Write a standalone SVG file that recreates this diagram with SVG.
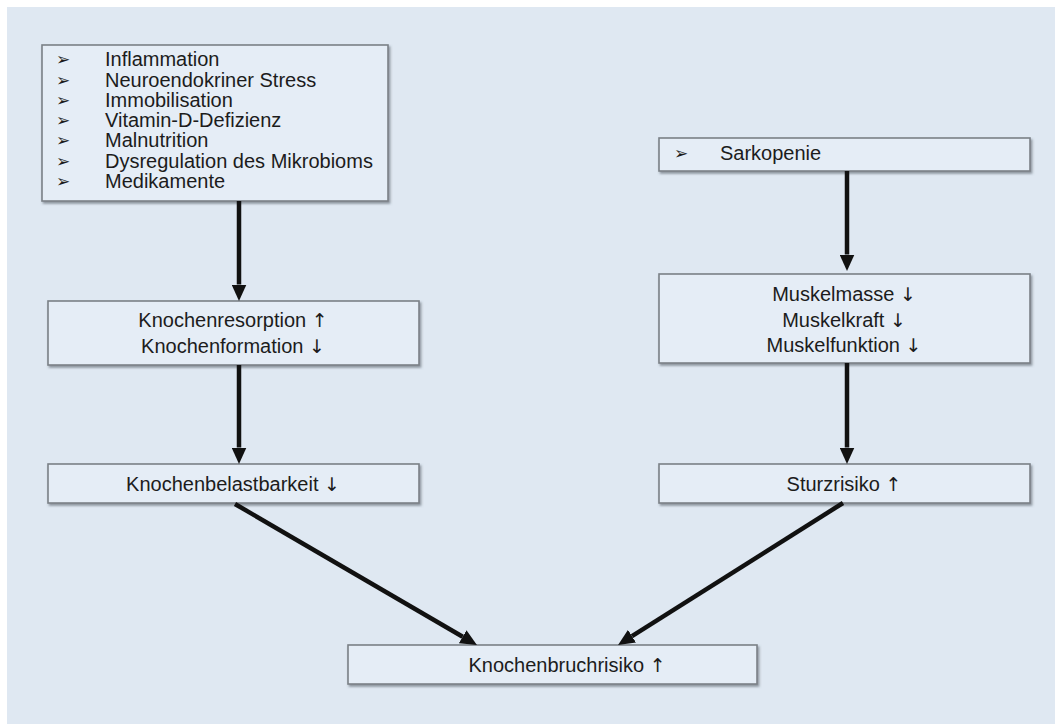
<svg xmlns="http://www.w3.org/2000/svg" width="1055" height="724" viewBox="0 0 1055 724">
<style>
.box{fill:#e5edf6;stroke:#7b8087;stroke-width:1.6;filter:url(#sh)}
.t{font-family:"Liberation Sans",Arial,sans-serif;font-size:20px;fill:#1c1c1c}
.c{text-anchor:middle}
.a{font-family:"DejaVu Sans",sans-serif;font-size:19px;fill:#1c1c1c}
.b{font-family:"DejaVu Sans",sans-serif;font-size:17px;fill:#1c1c1c}
.con line{stroke:#111;stroke-width:4.5;marker-end:url(#ah)}
</style>
<defs>
<filter id="sh" x="-5%" y="-20%" width="110%" height="150%">
<feDropShadow dx="1.5" dy="2" stdDeviation="1.2" flood-color="#4a5058" flood-opacity="0.55"/>
</filter>
<marker id="ah" markerUnits="userSpaceOnUse" markerWidth="17" markerHeight="15" refX="0" refY="7.5" orient="auto">
<path d="M0,0 L16.5,7.5 L0,15 z" fill="#111"/>
</marker>
</defs>
<rect x="0" y="0" width="1055" height="724" fill="#ffffff"/>
<rect x="7" y="7" width="1048" height="717" fill="#dfe8f2"/>

<g id="causes">
<rect class="box" x="42" y="45" width="346" height="156"/>
<text class="b" x="56" y="65">➢</text><text class="t" x="105" y="66">Inflammation</text>
<text class="b" x="56" y="86">➢</text><text class="t" x="105" y="87">Neuroendokriner Stress</text>
<text class="b" x="56" y="106">➢</text><text class="t" x="105" y="107">Immobilisation</text>
<text class="b" x="56" y="126">➢</text><text class="t" x="105" y="127">Vitamin-D-Defizienz</text>
<text class="b" x="56" y="146">➢</text><text class="t" x="105" y="147">Malnutrition</text>
<text class="b" x="56" y="167">➢</text><text class="t" x="105" y="168">Dysregulation des Mikrobioms</text>
<text class="b" x="56" y="187">➢</text><text class="t" x="105" y="188">Medikamente</text>
</g>

<g id="sarkopenie">
<rect class="box" x="659" y="138" width="371" height="33"/>
<text class="b" x="674" y="159">➢</text><text class="t" x="720" y="160">Sarkopenie</text>
</g>

<g id="knochenumbau">
<rect class="box" x="48" y="301" width="371" height="64"/>
<text class="t c" x="233" y="327">Knochenresorption <tspan class="a">↑</tspan></text>
<text class="t c" x="233" y="353">Knochenformation <tspan class="a">↓</tspan></text>
</g>

<g id="muskel">
<rect class="box" x="659" y="274" width="371" height="89"/>
<text class="t c" x="844" y="301">Muskelmasse <tspan class="a">↓</tspan></text>
<text class="t c" x="844" y="327">Muskelkraft <tspan class="a">↓</tspan></text>
<text class="t c" x="844" y="352">Muskelfunktion <tspan class="a">↓</tspan></text>
</g>

<g id="belastbarkeit">
<rect class="box" x="48" y="464" width="371" height="39"/>
<text class="t c" x="233" y="491">Knochenbelastbarkeit <tspan class="a">↓</tspan></text>
</g>

<g id="sturz">
<rect class="box" x="659" y="464" width="371" height="39"/>
<text class="t c" x="844" y="491">Sturzrisiko <tspan class="a">↑</tspan></text>
</g>

<g id="bruch">
<rect class="box" x="348" y="645" width="409" height="39"/>
<text class="t c" x="567" y="672">Knochenbruchrisiko <tspan class="a">↑</tspan></text>
</g>

<g id="connectors" class="con">
<line x1="239" y1="201" x2="239" y2="284.5"/>
<line x1="239" y1="365" x2="239" y2="447.5"/>
<line x1="847" y1="171" x2="847" y2="254.5"/>
<line x1="847" y1="363" x2="847" y2="447.5"/>
<line x1="235" y1="504" x2="462.7" y2="636.7"/>
<line x1="843" y1="503" x2="632" y2="636.2"/>
</g>
</svg>
